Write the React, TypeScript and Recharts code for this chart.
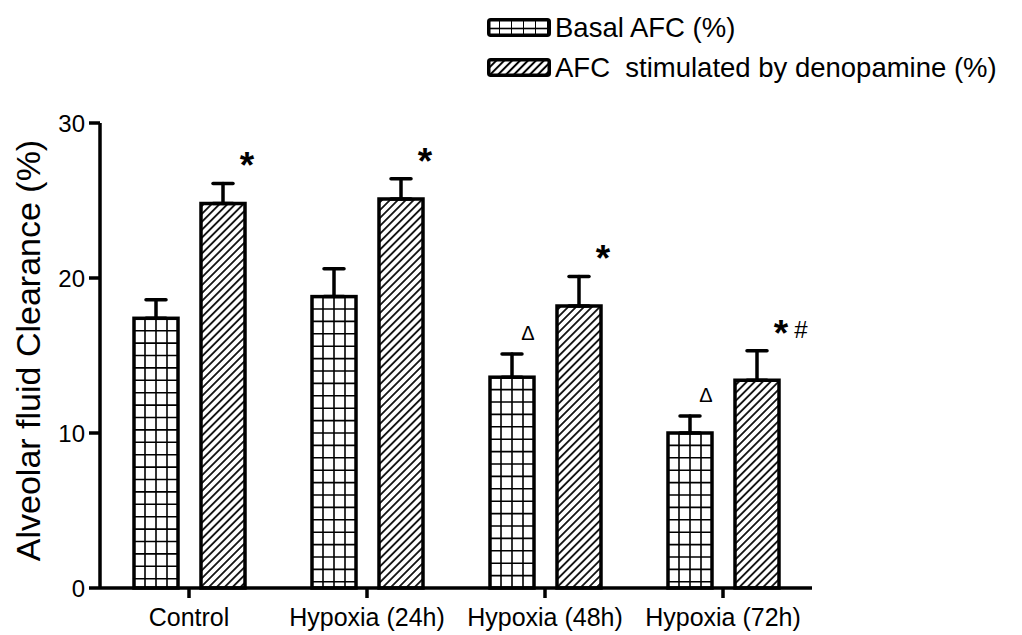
import { BarChart, Bar, XAxis, YAxis, ErrorBar, LabelList, Legend } from 'recharts'

const categories = ['Control', 'Hypoxia (24h)', 'Hypoxia (48h)', 'Hypoxia (72h)']
const basalAfc = [17.4, 18.8, 13.6, 10.0]
const basalSem = [1.2, 1.8, 1.5, 1.1]
const stimAfc = [24.8, 25.1, 18.2, 13.4]
const stimSem = [1.3, 1.3, 1.9, 1.9]
const basalMarks = ['', '', 'Δ', 'Δ']
const stimMarks = ['*', '*', '*', '*']
const stimHash = ['', '', '', '#']
const yTicks = [0, 10, 20, 30]
const legendOrder = ['basal', 'stim']

const data = categories.map((name, i) => ({
  name,
  basal: basalAfc[i],
  basalErr: [0, basalSem[i]],
  stim: stimAfc[i],
  stimErr: [0, stimSem[i]],
}))

const FONT = '"Liberation Sans", Arial, sans-serif'

// grid-filled bar, cells cut from the bar's own box
const GridBar = (props: any) => {
  const { x, y, width, height } = props
  if (!height || height <= 0) return null
  const lines = []
  for (let k = 1; k < 4; k++) {
    const lx = x + (width * k) / 4
    lines.push(<line key={'v' + k} x1={lx} y1={y} x2={lx} y2={y + height} stroke="#000" strokeWidth={1.6} />)
  }
  let n = 0
  for (let ly = y + 12.4; ly < y + height - 2; ly += 12.4) {
    lines.push(<line key={'h' + n++} x1={x} y1={ly} x2={x + width} y2={ly} stroke="#000" strokeWidth={1.6} />)
  }
  return (
    <g>
      <rect x={x} y={y} width={width} height={height} fill="#fff" />
      {lines}
      <rect x={x} y={y} width={width} height={height} fill="none" stroke="#000" strokeWidth={3.5} />
    </g>
  )
}

const basalLabel = (props: any) => {
  const { x, y, width, height, value, index } = props
  const mark = basalMarks[index]
  if (!mark) return null
  const top = y - (height / value) * basalSem[index]
  return (
    <text x={x + width / 2 + 16} y={top - 14} textAnchor="middle" fontSize={20} fontFamily={FONT} fill="#000">
      {mark}
    </text>
  )
}

const stimLabel = (props: any) => {
  const { x, y, width, height, value, index } = props
  const top = y - (height / value) * stimSem[index]
  const cx = x + width / 2 + 24
  return (
    <g>
      <text x={cx} y={top - 5} textAnchor="middle" fontSize={37} fontWeight="bold" fontFamily={FONT} fill="#000">
        {stimMarks[index]}
      </text>
      {stimHash[index] && (
        <text x={cx + 20} y={top - 13} textAnchor="middle" fontSize={24} fontFamily={FONT} fill="#000">
          {stimHash[index]}
        </text>
      )}
    </g>
  )
}

const renderLegend = (props: any) => {
  const items = [...(props.payload || [])].sort(
    (a: any, b: any) => legendOrder.indexOf(a.dataKey) - legendOrder.indexOf(b.dataKey)
  )
  return (
    <div style={{ fontFamily: FONT, fontSize: 27.5, lineHeight: '40px', color: '#000' }}>
      {items.map((entry: any) => (
        <div key={entry.dataKey} style={{ display: 'flex', alignItems: 'center', whiteSpace: 'pre' }}>
          <svg width={64} height={19} style={{ display: 'block' }}>
            <rect
              x={1.75}
              y={1.75}
              width={60.5}
              height={15.5}
              rx={2}
              fill={entry.dataKey === 'basal' ? 'url(#legendGrid)' : 'url(#legendHatch)'}
              stroke="#000"
              strokeWidth={3.5}
            />
          </svg>
          <span style={{ marginLeft: 4 }}>{entry.value}</span>
        </div>
      ))}
    </div>
  )
}

const yLabel = (props: any) => {
  const { viewBox } = props
  const cx = 40
  const cy = viewBox.y + viewBox.height / 2 - 5
  return (
    <text
      x={cx}
      y={cy}
      transform={`rotate(-90 ${cx} ${cy})`}
      textAnchor="middle"
      fontSize={34}
      fontFamily={FONT}
      fill="#000"
    >
      Alveolar fluid Clearance (%)
    </text>
  )
}

export default function App() {
  return (
    <div style={{ position: 'relative', width: 1022, height: 635, background: '#fff' }}>
      <style>{'body{margin:0;background:#fff}'}</style>
      <svg width={0} height={0} style={{ position: 'absolute' }}>
        <defs>
          <pattern id="hatch" patternUnits="userSpaceOnUse" width={5.6} height={5.6} patternTransform="rotate(45)">
            <rect width={5.6} height={5.6} fill="#fff" />
            <line x1={2.8} y1={0} x2={2.8} y2={5.6} stroke="#000" strokeWidth={1.7} />
          </pattern>
          <pattern id="legendHatch" patternUnits="userSpaceOnUse" width={5.6} height={5.6} patternTransform="rotate(45)">
            <rect width={5.6} height={5.6} fill="#fff" />
            <line x1={2.8} y1={0} x2={2.8} y2={5.6} stroke="#000" strokeWidth={2} />
          </pattern>
          <pattern id="legendGrid" patternUnits="userSpaceOnUse" width={12} height={19}>
            <rect width={12} height={19} fill="#fff" />
            <line x1={0} y1={0} x2={0} y2={19} stroke="#000" strokeWidth={2} />
            <line x1={0} y1={10.5} x2={12} y2={10.5} stroke="#000" strokeWidth={1.6} />
          </pattern>
        </defs>
      </svg>
      <BarChart
        width={1022}
        height={635}
        data={data}
        margin={{ top: 123, right: 210, bottom: 0, left: 0 }}
        barSize={44}
        barGap={23}
      >
        <XAxis
          dataKey="name"
          height={47}
          axisLine={{ stroke: '#000', strokeWidth: 3.5 }}
          tickLine={{ stroke: '#000', strokeWidth: 3.5 }}
          tickSize={10}
          tickMargin={10}
          tick={{ fontSize: 25, fill: '#000', fontFamily: FONT }}
          interval={0}
        />
        <YAxis
          width={100}
          domain={[0, 30]}
          ticks={yTicks}
          axisLine={{ stroke: '#000', strokeWidth: 3.5 }}
          tickLine={{ stroke: '#000', strokeWidth: 3.5 }}
          tickSize={11}
          tickMargin={4}
          tick={{ fontSize: 24, fill: '#000', fontFamily: FONT }}
          label={{ content: yLabel }}
        />
        <Legend
          layout="horizontal"
          verticalAlign="middle"
          align="center"
          content={renderLegend}
          wrapperStyle={{ left: 487, top: 7.5, width: 535 }}
        />
        <Bar dataKey="basal" name="Basal AFC (%)" shape={GridBar} isAnimationActive={false}>
          <ErrorBar dataKey="basalErr" width={10} stroke="#000" strokeWidth={3.5} strokeLinecap="round" />
          <LabelList dataKey="basal" content={basalLabel} />
        </Bar>
        <Bar
          dataKey="stim"
          name="AFC  stimulated by denopamine (%)"
          fill="url(#hatch)"
          stroke="#000"
          strokeWidth={3.5}
          isAnimationActive={false}
        >
          <ErrorBar dataKey="stimErr" width={10} stroke="#000" strokeWidth={3.5} strokeLinecap="round" />
          <LabelList dataKey="stim" content={stimLabel} />
        </Bar>
      </BarChart>
    </div>
  )
}
